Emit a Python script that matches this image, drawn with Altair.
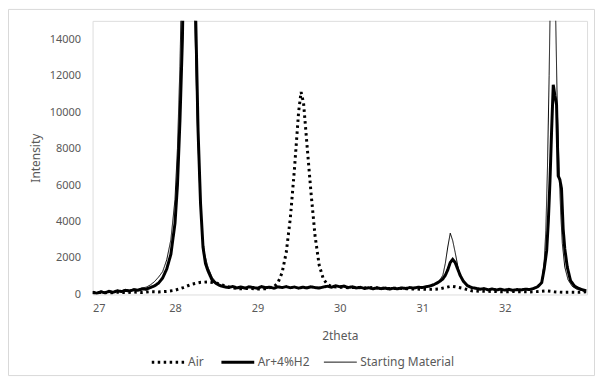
import altair as alt
import pandas as pd

# ---- data ----
air_x = [27.00, 27.10, 27.20, 27.30, 27.40, 27.50, 27.60, 27.70, 27.80, 27.90,
         28.00, 28.10, 28.20, 28.30, 28.40, 28.50, 28.60, 28.70, 28.80, 28.90,
         29.00, 29.10, 29.20, 29.25, 29.30, 29.35, 29.40, 29.45, 29.50, 29.53,
         29.56, 29.60, 29.65, 29.70, 29.75, 29.80, 29.85, 29.90, 30.00, 30.10,
         30.20, 30.30, 30.40, 30.50, 30.60, 30.70, 30.80, 30.90, 31.00, 31.10,
         31.20, 31.30, 31.35, 31.40, 31.50, 31.60, 31.70, 31.80, 31.90, 32.00,
         32.10, 32.20, 32.30, 32.40, 32.50, 32.60, 32.70, 32.80, 32.90, 32.99]
air_y = [90, 110, 80, 120, 100, 130, 110, 150, 140, 170,
         230, 380, 560, 660, 690, 630, 480, 360, 310, 330,
         300, 320, 420, 650, 1200, 2300, 4200, 6900, 10000, 11100,
         10500, 8300, 5600, 3200, 1600, 850, 550, 430, 400, 370,
         390, 360, 380, 350, 330, 350, 320, 300, 290, 280,
         300, 400, 450, 420, 330, 200, 180, 170, 160, 150,
         160, 150, 140, 160, 200, 150, 120, 130, 120, 150]

ar_x = [27.00, 27.05, 27.10, 27.15, 27.20, 27.25, 27.30, 27.35, 27.40, 27.45,
        27.50, 27.55, 27.60, 27.65, 27.70, 27.75, 27.80, 27.85, 27.90, 27.95,
        28.00, 28.03, 28.06, 28.09, 28.12, 28.17, 28.22, 28.25, 28.28, 28.31,
        28.34, 28.37, 28.40, 28.45, 28.50, 28.55, 28.60, 28.65, 28.70, 28.75,
        28.80, 28.85, 28.90, 28.95, 29.00, 29.05, 29.10, 29.15, 29.20, 29.25,
        29.30, 29.35, 29.40, 29.45, 29.50, 29.55, 29.60, 29.65, 29.70, 29.75,
        29.80, 29.85, 29.90, 29.95, 30.00, 30.05, 30.10, 30.15, 30.20, 30.25,
        30.30, 30.35, 30.40, 30.45, 30.50, 30.55, 30.60, 30.65, 30.70, 30.75,
        30.80, 30.85, 30.90, 30.95, 31.00, 31.05, 31.10, 31.15, 31.20, 31.25,
        31.28, 31.31, 31.34, 31.37, 31.40, 31.43, 31.46, 31.50, 31.55, 31.60,
        31.65, 31.70, 31.75, 31.80, 31.85, 31.90, 31.95, 32.00, 32.05, 32.10,
        32.15, 32.20, 32.25, 32.30, 32.35, 32.40, 32.45, 32.48, 32.51, 32.53,
        32.55, 32.57, 32.59, 32.61, 32.63, 32.65, 32.67, 32.69, 32.71, 32.73,
        32.76, 32.80, 32.85, 32.90, 32.95, 32.99]
ar_y = [120, 60, 150, 90, 170, 120, 200, 160, 230, 190,
        260, 230, 300, 290, 380, 470, 620, 900, 1400, 2200,
        3900, 6000, 9500, 14000, 22000, 28000, 22000, 15500, 9000, 5000,
        2600, 1700, 1300, 800, 600, 480, 420, 380, 440, 360,
        410, 350, 420, 380, 340, 430, 370, 400, 340, 420,
        380, 430, 370, 410, 350, 400, 360, 420, 380, 350,
        410, 450, 400, 480, 420, 460, 380, 420, 360, 390,
        330, 370, 310, 360, 320, 350, 300, 340, 310, 360,
        330, 380, 350, 400, 380, 430, 470, 560, 680, 850,
        1050, 1350, 1750, 1920, 1750, 1400, 1050, 720, 480, 380,
        340, 290, 320, 260, 300, 250, 290, 240, 280, 230,
        270, 250, 290, 270, 330, 420, 650, 1400, 2400, 4000,
        6200, 9000, 11500, 10900, 10400, 6500, 6300, 5800, 3600, 2500,
        1500, 750, 450, 330, 250, 200]

sm_x = [27.00, 27.05, 27.10, 27.15, 27.20, 27.25, 27.30, 27.35, 27.40, 27.45,
        27.50, 27.55, 27.60, 27.65, 27.70, 27.75, 27.80, 27.85, 27.90, 27.95,
        28.00, 28.03, 28.06, 28.09, 28.13, 28.17, 28.21, 28.24, 28.27, 28.30,
        28.33, 28.36, 28.40, 28.45, 28.50, 28.55, 28.60, 28.65, 28.70, 28.75,
        28.80, 28.85, 28.90, 28.95, 29.00, 29.05, 29.10, 29.15, 29.20, 29.25,
        29.30, 29.35, 29.40, 29.45, 29.50, 29.55, 29.60, 29.65, 29.70, 29.75,
        29.80, 29.85, 29.90, 29.95, 30.00, 30.05, 30.10, 30.15, 30.20, 30.25,
        30.30, 30.35, 30.40, 30.45, 30.50, 30.55, 30.60, 30.65, 30.70, 30.75,
        30.80, 30.85, 30.90, 30.95, 31.00, 31.05, 31.10, 31.15, 31.20, 31.25,
        31.28, 31.31, 31.34, 31.37, 31.40, 31.43, 31.46, 31.50, 31.55, 31.60,
        31.65, 31.70, 31.75, 31.80, 31.85, 31.90, 31.95, 32.00, 32.05, 32.10,
        32.15, 32.20, 32.25, 32.30, 32.35, 32.40, 32.45, 32.48, 32.50, 32.52,
        32.54, 32.56, 32.58, 32.60, 32.62, 32.64, 32.66, 32.68, 32.70, 32.73,
        32.77, 32.82, 32.87, 32.93, 32.99]
sm_y = [150, 100, 180, 130, 200, 150, 230, 200, 260, 240,
        300, 280, 360, 400, 520, 700, 950, 1250, 1900, 3000,
        5200, 8000, 12500, 19000, 26000, 27000, 21000, 15000, 9500, 5800,
        3300, 2200, 1500, 950, 650, 500, 430, 390, 450, 370,
        420, 360, 400, 350, 380, 420, 360, 410, 350, 400,
        370, 420, 380, 390, 360, 410, 370, 430, 360, 400,
        380, 470, 420, 500, 440, 430, 400, 440, 350, 410,
        340, 380, 320, 370, 330, 360, 310, 350, 320, 370,
        340, 390, 360, 410, 390, 420, 450, 520, 700, 1050,
        1700, 2600, 3360, 2950, 2300, 1600, 1000, 650, 430, 360,
        320, 300, 330, 270, 310, 260, 300, 250, 290, 240,
        280, 260, 300, 280, 340, 400, 700, 1800, 3500, 7000,
        12000, 18000, 22000, 20000, 15000, 10000, 7000, 4500, 2800, 1500,
        800, 450, 300, 220, 180]

series_names = ["Air", "Ar+4%H2", "Starting Material"]
x_ticks = [27, 28, 29, 30, 31, 32]
y_ticks = [0, 2000, 4000, 6000, 8000, 10000, 12000, 14000]

rows = []
for name, xs, ys in zip(series_names, [air_x, ar_x, sm_x], [air_y, ar_y, sm_y]):
    for i, (a, b) in enumerate(zip(xs, ys)):
        rows.append({"series": name, "theta": a, "intensity": b, "order": i})
df = pd.DataFrame(rows)

FONT = "Noto Sans"
GRAY = "#595959"
THIN_TEST = "datum.series == 'Starting Material'"

lines = alt.Chart(df).mark_line(clip=True, color="black").encode(
    x=alt.X("theta:Q",
            scale=alt.Scale(domain=[27, 33], nice=False, zero=False),
            axis=alt.Axis(values=x_ticks, title="2theta", grid=False, ticks=False,
                          domain=False, labelPadding=8, titlePadding=17,
                          labelFontSize=11, titleFontSize=12, labelColor=GRAY,
                          titleColor=GRAY, titleFontWeight="normal",
                          labelFont=FONT, titleFont=FONT)),
    y=alt.Y("intensity:Q",
            scale=alt.Scale(domain=[0, 15000], nice=False),
            axis=alt.Axis(values=y_ticks, format="d", title="Intensity", grid=False,
                          ticks=False, domain=False, labelPadding=12, titlePadding=7,
                          labelFontSize=11, titleFontSize=12, labelColor=GRAY,
                          titleColor=GRAY, titleFontWeight="normal",
                          labelFont=FONT, titleFont=FONT)),
    strokeDash=alt.StrokeDash("series:N",
                              scale=alt.Scale(domain=series_names,
                                              range=[[2.5, 3.5], [1, 0], [1, 0]]),
                              legend=alt.Legend(title=None, orient="none",
                                                direction="horizontal",
                                                legendX=70, legendY=337,
                                                symbolType="stroke", symbolSize=1089,
                                                symbolStrokeColor="black",
                                                symbolStrokeWidth={"expr": "datum.value == 'Starting Material' ? 1 : 3"},
                                                labelFontSize=12, labelColor=GRAY,
                                                labelFont=FONT, labelOffset=14,
                                                columnPadding=11)),
    strokeWidth=alt.condition(THIN_TEST, alt.value(1), alt.value(3)),
    order="order:Q",
)

border = alt.Chart(alt.Data(values=[{"a": 1}])).mark_rect(
    fill=None, stroke="#d9d9d9", strokeWidth=1
).encode(
    x=alt.value(-84.5), x2=alt.value(504.5), y=alt.value(-11.5), y2=alt.value(356.5)
)

chart = alt.layer(border, lines).properties(
    width=497, height=275,
    autosize=alt.AutoSizeParams(type="none"),
    padding={"left": 85, "top": 12, "right": 10, "bottom": 82},
).configure_view(stroke="#bfbfbf", strokeWidth=1).configure(background="white")

chart.save("out.html", embed_options={"renderer": "svg", "actions": False})
